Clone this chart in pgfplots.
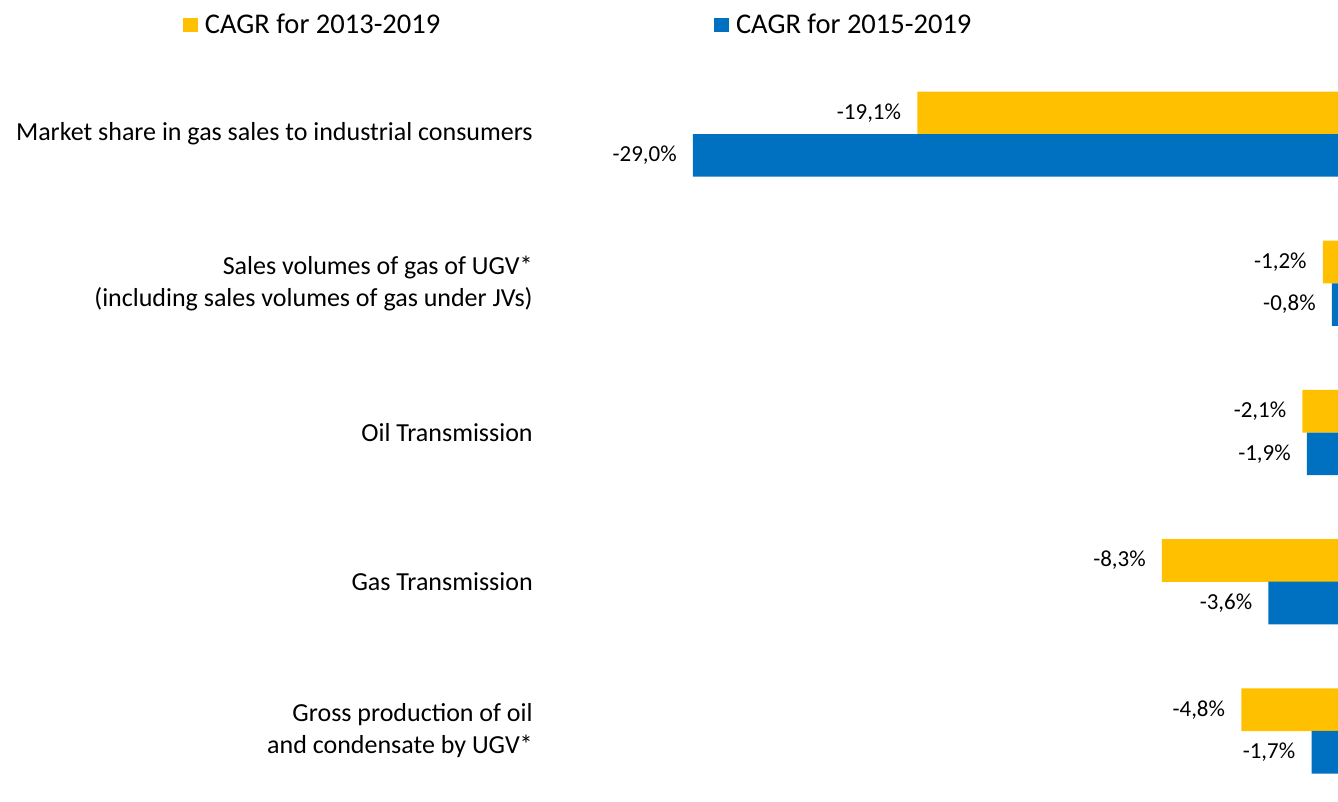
\documentclass[border=0pt]{standalone}
\usepackage{fontspec}
\setmainfont{Carlito}
\usepackage{pgfplots}
\pgfplotsset{compat=1.18}
\definecolor{cyel}{HTML}{FFC000}
\definecolor{cblu}{HTML}{0070C0}
\begin{document}
\begin{tikzpicture}
\useasboundingbox (0,0) rectangle (1003.5pt,600.75pt);
\begin{axis}[
  at={(405pt,0pt)}, anchor=south west,
  scale only axis, width=598.5pt, height=555.75pt,
  xbar, bar width=31.9pt,
  xmin=-35.75, xmax=-0.53, ymin=-0.469, ymax=4.496,
  enlargelimits=false,
  axis line style={draw=none}, tick style={draw=none},
  xtick=\empty,
  ytick={0,1,2,3,4},
  yticklabels={{Gross production of oil\\and condensate by UGV*},{Gas Transmission},{Oil Transmission},{Sales volumes of gas of UGV*\\(including sales volumes of gas under JVs)},{Market share in gas sales to industrial consumers}},
  yticklabel style={align=right, inner sep=0pt, xshift=-1pt, font=\fontsize{19.5}{24}\selectfont},
  nodes near coords, point meta=explicit symbolic,
  every node near coord/.append style={anchor=east, xshift=-12pt, inner sep=0pt, font=\fontsize{17.2}{20}\selectfont, text=black},
  legend columns=2,
  legend style={draw=none, fill=none, at={(-0.4474,1.0472)}, anchor=west, inner sep=0pt,
    nodes={inner sep=0pt, font=\fontsize{21.4}{25}\selectfont},
    /tikz/every odd column/.append style={column sep=5pt},
    /tikz/every even column/.append style={column sep=205.5pt}},
  legend image code/.code={\fill[#1] (0pt,-5.6pt) rectangle (11.25pt,5.6pt);},
]
\addplot[fill=cyel, draw=none, bar shift=15.94pt] table[meta=label] {
x y label
-4.8 0 {-4,8\%}
-8.3 1 {-8,3\%}
-2.1 2 {-2,1\%}
-1.2 3 {-1,2\%}
-19.1 4 {-19,1\%}
};
\addplot[fill=cblu, draw=none, bar shift=-15.94pt] table[meta=label] {
x y label
-1.7 0 {-1,7\%}
-3.6 1 {-3,6\%}
-1.9 2 {-1,9\%}
-0.8 3 {-0,8\%}
-29.0 4 {-29,0\%}
};
\legend{CAGR for 2013-2019,CAGR for 2015-2019}
\end{axis}
\end{tikzpicture}
\end{document}
